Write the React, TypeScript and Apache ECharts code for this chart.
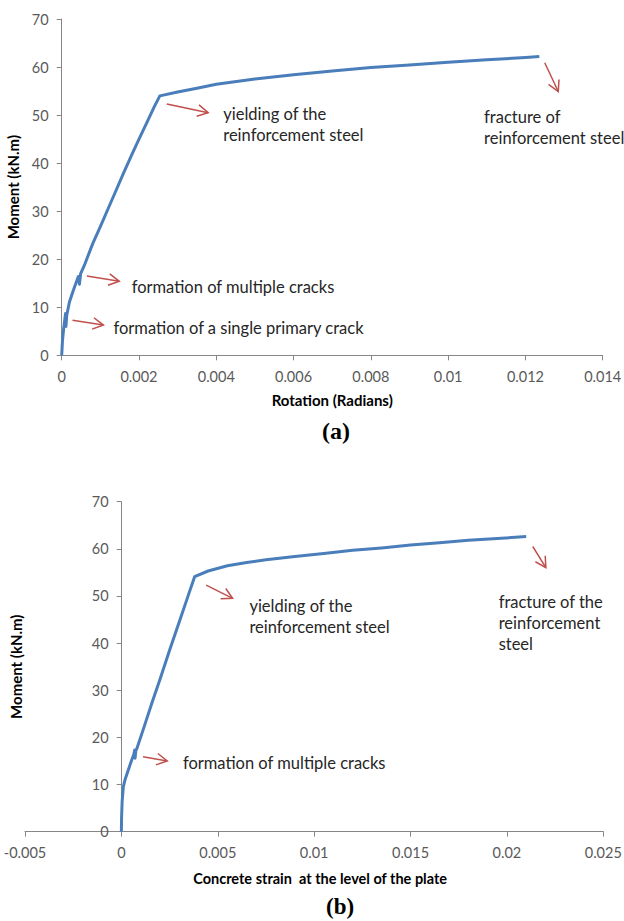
import { useEffect, useRef } from "react";
import * as echarts from "echarts";

// ---- Chart (a): moment vs rotation ----
const rotationA = [0, 0.00002, 0.00005, 0.0001, 0.00011, 0.00013, 0.0002, 0.0003, 0.00043, 0.00046, 0.00049, 0.0006, 0.0008, 0.001, 0.0012, 0.0014, 0.0016, 0.0018, 0.002, 0.0022, 0.0024, 0.00254, 0.003, 0.0035, 0.004, 0.005, 0.006, 0.007, 0.008, 0.009, 0.01, 0.011, 0.012, 0.01236];
const momentA = [0, 3.0, 5.5, 8.7, 6.0, 8.3, 11.1, 13.5, 16.4, 14.8, 17.0, 19.0, 23.2, 26.8, 30.5, 34.2, 37.9, 41.5, 45.0, 48.4, 51.8, 54.0, 54.8, 55.6, 56.4, 57.5, 58.4, 59.2, 59.9, 60.4, 61.0, 61.5, 62.0, 62.2];

// ---- Chart (b): moment vs concrete strain ----
const strainB = [0, 0.00001, 0.00004, 0.0001, 0.0002, 0.00035, 0.0005, 0.00065, 0.00069, 0.00071, 0.00075, 0.0008, 0.0012, 0.0016, 0.002, 0.0025, 0.003, 0.0035, 0.0038, 0.0045, 0.0055, 0.0065, 0.0075, 0.009, 0.0105, 0.012, 0.0135, 0.015, 0.0165, 0.018, 0.0195, 0.021];
const momentB = [0, 3.0, 6.5, 9.5, 11.2, 13.0, 14.8, 16.5, 17.3, 15.6, 17.2, 17.6, 22.5, 27.5, 32.3, 38.5, 44.5, 50.5, 54.1, 55.3, 56.4, 57.1, 57.7, 58.4, 59.0, 59.7, 60.2, 60.8, 61.3, 61.8, 62.2, 62.6];

// Annotation arrows [xStart, yStart, xEnd, yEnd] in data units
const arrowsA = [
  [0.00272, 52.3, 0.00379, 50.5],
  [0.00065, 16.5, 0.00149, 15.4],
  [0.00028, 7.3, 0.00108, 6.3],
  [0.0125, 60.9, 0.01285, 54.9],
];
const arrowsB = [
  [0.0044, 52.3, 0.00577, 49.5],
  [0.00112, 15.9, 0.00238, 15.0],
  [0.02134, 60.5, 0.02202, 56.0],
];

// Annotation texts and their top-left anchors (data units)
const notesTextA = [
  "yielding of the\nreinforcement steel",
  "formation of multiple cracks",
  "formation of a single primary crack",
  "fracture of\nreinforcement steel",
];
const notesPosA = [
  [0.00418, 52.4],
  [0.00181, 16.35],
  [0.00134, 7.84],
  [0.01093, 51.7],
];
const notesTextB = [
  "yielding of the\nreinforcement steel",
  "formation of multiple cracks",
  "fracture of the\nreinforcement\nsteel",
];
const notesPosB = [
  [0.00664, 50.0],
  [0.00319, 16.74],
  [0.01957, 50.9],
];

const AXIS_COLOR = "#868686";
const LABEL_COLOR = "#595959";
const TEXT_COLOR = "#262626";
const LINE_COLOR = "#4a7ebb";
const ARROW_COLOR = "#c0504d";
const FONT = "Lato, 'Open Sans', sans-serif";

function arrowRender(_params: any, api: any) {
  const p1 = api.coord([api.value(0), api.value(1)]);
  const p2 = api.coord([api.value(2), api.value(3)]);
  const ang = Math.atan2(p2[1] - p1[1], p2[0] - p1[0]);
  const L = 12;
  const a = 0.5;
  const h1 = [p2[0] - L * Math.cos(ang - a), p2[1] - L * Math.sin(ang - a)];
  const h2 = [p2[0] - L * Math.cos(ang + a), p2[1] - L * Math.sin(ang + a)];
  return {
    type: "group",
    children: [
      {
        type: "line",
        shape: { x1: p1[0], y1: p1[1], x2: p2[0], y2: p2[1] },
        style: { stroke: ARROW_COLOR, lineWidth: 1.5 },
      },
      {
        type: "polyline",
        shape: { points: [h1, p2, h2] },
        style: { stroke: ARROW_COLOR, lineWidth: 1.5, fill: null },
      },
    ],
  };
}

function textRender(texts: string[]) {
  return (params: any, api: any) => {
    const p = api.coord([api.value(0), api.value(1)]);
    return {
      type: "text",
      x: p[0],
      y: p[1],
      style: {
        text: texts[params.dataIndex],
        fill: TEXT_COLOR,
        fontSize: 16.5,
        fontFamily: FONT,
        lineHeight: 21,
        align: "left",
        verticalAlign: "top",
        textAlign: "left",
        textVerticalAlign: "top",
      },
    };
  };
}

function momentAxis(gridIndex: number, nameGap: number) {
  return {
    type: "value",
    gridIndex,
    min: 0,
    max: 70,
    interval: 10,
    name: "Moment (kN.m)",
    nameLocation: "middle",
    nameGap,
    nameTextStyle: { color: "#000", fontWeight: "bold", fontSize: 15, fontFamily: FONT },
    axisLine: { show: true, onZero: false, lineStyle: { color: AXIS_COLOR, width: 1 } },
    axisTick: { show: true, length: 5, lineStyle: { color: AXIS_COLOR } },
    axisLabel: { color: LABEL_COLOR, fontSize: 14.5, fontFamily: FONT, margin: 13 },
    splitLine: { show: false },
  };
}

export default function App() {
  const ref = useRef<HTMLDivElement>(null);
  useEffect(() => {
    if (!ref.current) return;
    const chart = echarts.init(ref.current, undefined, { renderer: "svg" });
    const option: any = {
      animation: false,
      backgroundColor: "#fff",
      grid: [
        { left: 61.7, top: 19, width: 541, height: 336.3, containLabel: false, outerBoundsMode: "none" },
        { left: 25, top: 501.7, width: 578.3, height: 330, containLabel: false, outerBoundsMode: "none" },
        // grid whose left edge sits at strain = 0, used only to draw chart (b)'s moment axis
        { left: 121.7, top: 501.7, width: 481.6, height: 330, containLabel: false, outerBoundsMode: "none" },
      ],
      xAxis: [
        {
          type: "value",
          gridIndex: 0,
          min: 0,
          max: 0.014,
          interval: 0.002,
          name: "Rotation (Radians)",
          nameLocation: "middle",
          nameGap: 37,
          nameTextStyle: { color: "#000", fontWeight: "bold", fontSize: 15, fontFamily: FONT },
          axisLine: { show: true, onZero: false, lineStyle: { color: AXIS_COLOR, width: 1 } },
          axisTick: { show: true, length: 5, lineStyle: { color: AXIS_COLOR } },
          axisLabel: { color: LABEL_COLOR, fontSize: 14.5, fontFamily: FONT, margin: 14 },
          splitLine: { show: false },
        },
        {
          type: "value",
          gridIndex: 1,
          min: -0.005,
          max: 0.025,
          interval: 0.005,
          name: "Concrete strain  at the level of the plate",
          nameLocation: "middle",
          nameGap: 39,
          nameTextStyle: { color: "#000", fontWeight: "bold", fontSize: 14.5, fontFamily: FONT, padding: [0, 0, 0, 12] },
          axisLine: { show: true, onZero: false, lineStyle: { color: AXIS_COLOR, width: 1 } },
          axisTick: { show: true, length: 5, lineStyle: { color: AXIS_COLOR } },
          axisLabel: { color: LABEL_COLOR, fontSize: 14.5, fontFamily: FONT, margin: 13 },
          splitLine: { show: false },
        },
        {
          type: "value",
          gridIndex: 2,
          min: 0,
          max: 0.025,
          show: false,
        },
      ],
      yAxis: [
        momentAxis(0, 35),
        { type: "value", gridIndex: 1, min: 0, max: 70, interval: 10, show: false, splitLine: { show: false } },
        momentAxis(2, 98),
      ],
      series: [
        {
          type: "line",
          xAxisIndex: 0,
          yAxisIndex: 0,
          data: rotationA.map((x, i) => [x, momentA[i]]),
          showSymbol: false,
          smooth: false,
          lineStyle: { color: LINE_COLOR, width: 3, join: "round" },
          silent: true,
        },
        {
          type: "line",
          xAxisIndex: 1,
          yAxisIndex: 1,
          data: strainB.map((x, i) => [x, momentB[i]]),
          showSymbol: false,
          smooth: false,
          lineStyle: { color: LINE_COLOR, width: 3, join: "round" },
          silent: true,
        },
        {
          type: "custom",
          xAxisIndex: 0,
          yAxisIndex: 0,
          data: arrowsA,
          encode: { x: [0, 2], y: [1, 3] },
          renderItem: arrowRender,
          silent: true,
        },
        {
          type: "custom",
          xAxisIndex: 1,
          yAxisIndex: 1,
          data: arrowsB,
          encode: { x: [0, 2], y: [1, 3] },
          renderItem: arrowRender,
          silent: true,
        },
        {
          type: "custom",
          xAxisIndex: 0,
          yAxisIndex: 0,
          data: notesPosA,
          encode: { x: 0, y: 1 },
          renderItem: textRender(notesTextA),
          silent: true,
        },
        {
          type: "custom",
          xAxisIndex: 1,
          yAxisIndex: 1,
          data: notesPosB,
          encode: { x: 0, y: 1 },
          renderItem: textRender(notesTextB),
          silent: true,
        },
      ],
      graphic: [
        {
          type: "text",
          left: 322,
          top: 419,
          style: { text: "(a)", fill: "#000", font: "bold 24px 'Liberation Serif', serif" },
        },
        {
          type: "text",
          left: 326,
          top: 895,
          style: { text: "(b)", fill: "#000", font: "bold 23px 'Liberation Serif', serif" },
        },
      ],
    };
    chart.setOption(option);
    return () => chart.dispose();
  }, []);
  return (
    <div
      ref={ref}
      style={{ position: "fixed", left: 0, top: 0, width: 624, height: 921, background: "#fff" }}
    />
  );
}
